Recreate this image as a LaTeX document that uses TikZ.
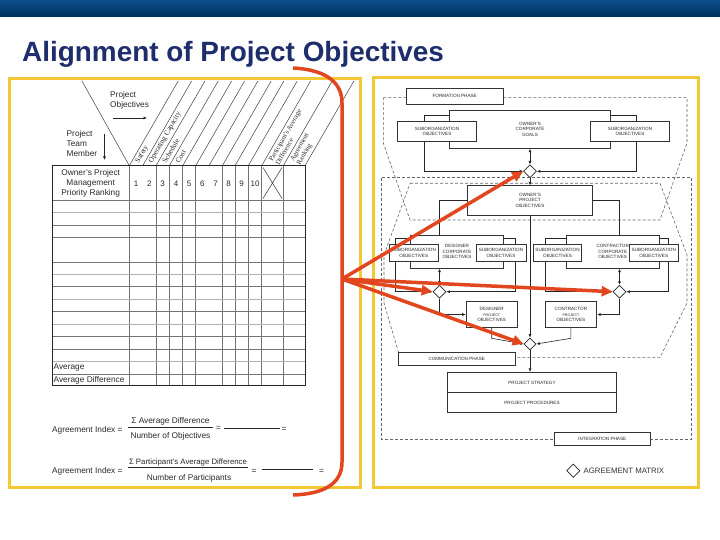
\documentclass[tikz,border=0pt]{standalone}
\usepackage{fontspec}
\setmainfont{Liberation Sans}
\newfontfamily\seriffont{Liberation Serif}
\usetikzlibrary{arrows.meta,shapes.geometric}
\definecolor{navy}{HTML}{1E2D6B}
\definecolor{ybord}{HTML}{F2C935}
\definecolor{redarr}{HTML}{E2461E}
\definecolor{bartop}{HTML}{0C4E8E}
\definecolor{barbot}{HTML}{00305C}
\definecolor{ink}{HTML}{2A2A2A}
\tikzset{
  panel/.style={draw=ybord, line width=3pt},
  lbl/.style={font=\fontsize{8.3}{10}\selectfont, text=ink, inner sep=0pt},
  slant/.style={font=\seriffont\fontsize{7.4}{7.4}\selectfont, text=ink, inner sep=0pt, rotate=60, anchor=west, align=left},
  slanttwo/.style={slant, font=\seriffont\fontsize{6.9}{7.6}\selectfont},
  gridln/.style={draw=black!55, line width=0.7pt},
  gridlt/.style={draw=black!30, line width=0.6pt},
  gridvt/.style={draw=black!55, line width=0.9pt},
  diag/.style={draw=black!75, line width=0.5pt},
  rbox/.style={draw=black!80, line width=0.7pt, fill=white, inner sep=0pt, align=center, font=\fontsize{4.6}{5.5}\selectfont, text=black!85},
  phase/.style={draw=black!60, line width=0.6pt, dash pattern=on 3pt off 2pt},
  conn/.style={draw=black!85, line width=0.6pt},
  tip/.style={-{Latex[length=3.5pt,width=3pt]}},
  dtip/.style={{Latex[length=3.5pt,width=3pt]}-{Latex[length=3.5pt,width=3pt]}},
  agree/.style={diamond, draw=black!85, line width=0.7pt, fill=white, minimum width=13pt, minimum height=13pt, inner sep=0pt},
  redline/.style={draw=redarr, line width=3.5pt},
  redtip/.style={redline, -{Triangle[length=11pt,width=10pt]}},
}
\begin{document}
\begin{tikzpicture}[x=1pt,y=-1pt]
\useasboundingbox (0,0) rectangle (720,540);
\fill[white] (0,0) rectangle (720,540);
\shade[top color=bartop, bottom color=barbot] (0,0) rectangle (720,17);
\node[anchor=base west, inner sep=0pt, text=navy, font=\fontsize{27.9}{30}\selectfont\bfseries] (title) at (22,61.7) {Alignment of Project Objectives};

% panels
\draw[panel] (9,79) rectangle (360,487);
\draw[panel] (373,78) rectangle (698,487);

% ================= LEFT PANEL =================
\draw[diag] (82,81) -- (129.3,165.7);
\foreach \b in {129.3,142.7,156,169.3,182.7,195.7,209,222.3,235,248.3,261.7,283.3,305}
  \draw[diag] (\b,165.7) -- ++(48.9,-84.7);

\node[slant] (lsafety) at (137.2,162.8) {Safety};
\node[slant] (lopcap) at (150.5,162.8) {Operating Capacity};
\node[slant] (lsched) at (163.9,162.8) {Schedule};
\node[slant] (lcost) at (177.2,162.8) {Cost};
\node[slanttwo] (lpad) at (273.7,162.8) {Participant's Average\\Difference};
\node[slanttwo] (lagr) at (295.4,162.8) {Agreement\\Ranking};

\node[lbl, align=left, anchor=north west] (pobj) at (110,91.5) {Project\\Objectives};
\coordinate (pa1) at (113,118); \coordinate (pa2) at (147,118);
\draw[conn, tip] (pa1) -- (pa2);
\node[lbl, align=left, anchor=west] (ptm) at (66.5,143.5) {Project\\Team\\Member};
\coordinate (ta1) at (104.5,134); \coordinate (ta2) at (104.5,160);
\draw[conn, tip] (ta1) -- (ta2);

% table
\draw[gridvt] foreach \x in {129.3,156,169.3,182.7,195.7,222.3,235,248.3,261.7,283.3} {(\x,165.7) -- (\x,385.7)};
\draw[gridlt] foreach \y in {212.7,274.3,299.3,324.3,361.7} {(52,\y) -- (305,\y)};
\draw[gridln] foreach \y in {200,225,237.3,262.3,286.7,311.7,336.7,349.3,374} {(52,\y) -- (305,\y)};
\draw[black!85, line width=0.9pt] (52,165.7) rectangle (305,385.7);
\draw[black!70, line width=0.6pt] (263,167.5) -- (282,198.5) (263,198.5) -- (282,167.5);

\node[lbl, align=center] (opm) at (90.7,183.3) {Owner's Project\\Management\\Priority Ranking};
\foreach \n/\x in {1/136,2/149.3,3/162.7,4/176,5/189.2,6/202.3,7/215.6,8/228.7,9/241.7,10/255}
  \node[lbl, font=\fontsize{8}{9}\selectfont] (hn\n) at (\x,183.5) {\n};
\node[lbl, anchor=west] (avg) at (53.5,368) {Average};
\node[lbl, anchor=west] (avgd) at (53.5,380) {Average Difference};

% formulas
\node[lbl, anchor=west] (ai1) at (52,430) {Agreement Index =};
\node[lbl] (num1) at (170.5,421.5) {Σ Average Difference};
\node[lbl] (den1) at (170.5,436.5) {Number of Objectives};
\coordinate (f1a) at (128,427.5); \coordinate (f1b) at (213,427.5);
\draw[conn] (f1a) -- (f1b);
\node[lbl] (eq1) at (218.5,428.5) {=};
\coordinate (l1a) at (224,428); \coordinate (l1b) at (280,428);
\draw[conn] (l1a) -- (l1b);
\node[lbl] (eq2) at (284,429.5) {=};

\node[lbl, anchor=west] (ai2) at (52,471.5) {Agreement Index =};
\node[lbl, font=\fontsize{7.8}{9}\selectfont] (num2) at (188,462) {Σ Participant's Average Difference};
\node[lbl] (den2) at (189,478.5) {Number of Participants};
\coordinate (f2a) at (128,467.3); \coordinate (f2b) at (248,467.3);
\draw[conn] (f2a) -- (f2b);
\node[lbl] (eq3) at (254,471) {=};
\coordinate (l2a) at (262,469.5); \coordinate (l2b) at (313,469.5);
\draw[conn] (l2a) -- (l2b);
\node[lbl] (eq4) at (321.5,471) {=};

% ================= RIGHT PANEL =================
\draw[phase] (383.3,97.7) -- (687,97.7) -- (687,143) -- (660,220) -- (410,220) -- (383.3,143) -- cycle;
\draw[phase] (410,183.3) -- (660,183.3) -- (687,255) -- (687,303) -- (660,357.3) -- (400,357.3) -- (384,303) -- (384,255) -- cycle;
\draw[phase] (381.7,177.7) rectangle (691.7,439.3);

\node[rbox, minimum width=97.3pt, minimum height=16pt] (form) at (454.7,96.3) {FORMATION PHASE};
\node[rbox, minimum width=116.7pt, minimum height=12.3pt] (comm) at (456.7,358.9) {COMMUNICATION PHASE};
\node[rbox, minimum width=95.7pt, minimum height=12.3pt] (integ) at (602.2,438.9) {INTEGRATION PHASE};

% diamonds
\node[agree] (d1) at (530,171.3) {};
\node[agree] (d2) at (439.5,291.7) {};
\node[agree] (d3) at (619.5,291.7) {};
\node[agree, minimum width=12pt, minimum height=12pt] (d4) at (530,344) {};

% owner group
\coordinate (og1) at (424,115); \coordinate (og2) at (636.7,115);
\draw[conn, dtip] (d1.west) -| (og1) -- (og2) |- (d1.east);
\node[rbox, minimum width=161.4pt, minimum height=38.3pt] (ocg) at (530,129.2) {OWNER'S\\CORPORATE\\GOALS};
\node[rbox, minimum width=79.4pt, minimum height=20.7pt] (so1) at (437,131.4) {SUBORGANIZATION\\OBJECTIVES};
\node[rbox, minimum width=78.6pt, minimum height=20.7pt] (so2) at (630,131.4) {SUBORGANIZATION\\OBJECTIVES};
\draw[conn, dtip] (ocg.south) -- (d1.north);

\node[rbox, minimum width=125pt, minimum height=29.3pt] (opo) at (530,200.4) {OWNER'S\\PROJECT\\OBJECTIVES};
\draw[conn, tip] (d1.south) -- (opo.north);
\coordinate (dtop) at (439.5,235); \coordinate (ctop) at (619.5,235);
\draw[conn] (opo.west) -| (dtop);
\draw[conn] (opo.east) -| (ctop);

% designer group
\coordinate (dg1) at (395,238.3); \coordinate (dg2) at (515,238.3);
\draw[conn, dtip] (d2.west) -| (dg1) -- (dg2) |- (d2.east);
\node[rbox, minimum width=92.6pt, minimum height=33.3pt] (dco) at (457,251.7) {DESIGNER\\CORPORATE\\OBJECTIVES};
\node[rbox, minimum width=49pt, minimum height=17.7pt] (so3) at (413.8,252.9) {SUBORGANIZATION\\OBJECTIVES};
\node[rbox, minimum width=50pt, minimum height=17.7pt] (so4) at (501,252.9) {SUBORGANIZATION\\OBJECTIVES};
\draw[conn, dtip] (d2.north |- dco.south) -- (d2.north);

% contractor group
\coordinate (cg1) at (545,238.3); \coordinate (cg2) at (668.3,238.3);
\draw[conn, dtip] (d3.west) -| (cg1) -- (cg2) |- (d3.east);
\node[rbox, minimum width=93.3pt, minimum height=33.3pt] (cco) at (612.7,251.7) {CONTRACTOR\\CORPORATE\\OBJECTIVES};
\node[rbox, minimum width=48.4pt, minimum height=17.7pt] (so5) at (557.5,252.9) {SUBORGANIZATION\\OBJECTIVES};
\node[rbox, minimum width=49pt, minimum height=17.7pt] (so6) at (653.8,252.9) {SUBORGANIZATION\\OBJECTIVES};
\draw[conn, dtip] (d3.north |- cco.south) -- (d3.north);

% project objective boxes
\node[rbox, minimum width=51.3pt, minimum height=25.6pt] (dpo) at (491.7,314.5) {DESIGNER\\{\fontsize{3.6}{5.5}\selectfont PROJECT}\\OBJECTIVES};
\node[rbox, minimum width=51.7pt, minimum height=25.6pt] (cpo) at (570.9,314.5) {CONTRACTOR\\{\fontsize{3.6}{5.5}\selectfont PROJECT}\\OBJECTIVES};
\draw[conn, tip] (d2.south) |- (dpo.west);
\draw[conn, tip] (d3.south) |- (cpo.east);
\coordinate (dpo1) at (491.7,338.3); \coordinate (cpo1) at (570.9,338.3);
\draw[conn, tip] (dpo.south) -- (dpo1) -- (d4.west);
\draw[conn, tip] (cpo.south) -- (cpo1) -- (d4.east);
\draw[conn, tip] (opo.south) -- (d4.north);

% strategy
\node[rbox, minimum width=169.4pt, minimum height=20.4pt] (strat) at (532,382.5) {PROJECT STRATEGY};
\node[rbox, minimum width=169.4pt, minimum height=19.6pt] (proc) at (532,402.5) {PROJECT PROCEDURES};
\draw[conn, tip] (d4.south) -- (d4.south |- strat.north);

% legend
\node[agree, minimum width=13.4pt, minimum height=13.4pt] (leg) at (573.3,470.7) {};
\node[anchor=west, inner sep=0pt, font=\fontsize{7.8}{9}\selectfont, text=black!80] (legt) at (583.5,471.2) {AGREEMENT MATRIX};

% ================= RED OVERLAY =================
\coordinate (rt0) at (293,68); \coordinate (rt1) at (342,103);
\coordinate (rb0) at (342,462); \coordinate (rb1) at (293,495);
\coordinate (rs) at (342,279);
\draw[redline] (rt0) .. controls (330,70) and (342,85) .. (rt1) -- (rb0) .. controls (342,485) and (322,494) .. (rb1);
\draw[redtip] (rs) -- (d1.west);
\draw[redtip] (rs) -- (d2.west);
\draw[redtip] (rs) -- (d3.west);
\draw[redtip] (rs) -- (d4.west);
\end{tikzpicture}
\end{document}
